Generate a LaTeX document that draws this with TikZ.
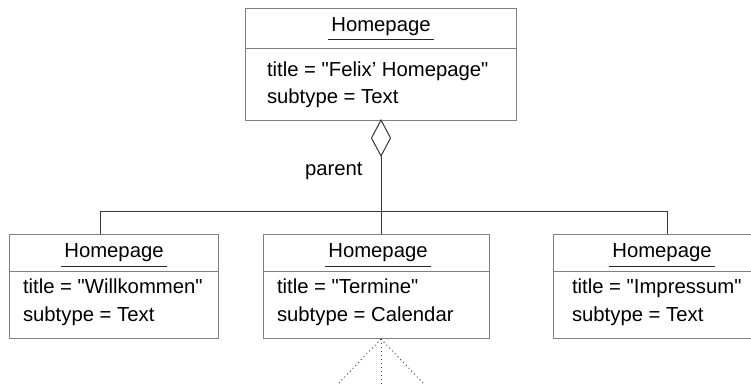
\documentclass[tikz,border=0pt]{standalone}
\usepackage{fontspec}
\setmainfont{Liberation Sans}[Ligatures=TeXOff]
\usetikzlibrary{shapes.geometric,calc}
\definecolor{boxgray}{gray}{0.5}
\definecolor{linegray}{gray}{0.22}
\begin{document}
\begin{tikzpicture}[x=1bp,y=-1bp,
  objbox/.style={draw=boxgray,line width=1bp,rectangle,inner sep=0pt,outer sep=0pt,anchor=north west},
  sep/.style={draw=boxgray,line width=1bp},
  conn/.style={draw=linegray,line width=1bp},
  dots/.style={draw=linegray,line width=0.9bp,dash pattern=on 1bp off 3bp},
  txt/.style={inner sep=0pt,outer sep=0pt,font=\fontsize{20.3bp}{27bp}\selectfont,text=black},
  uline/.style={draw=black!85,line width=1bp}]
\useasboundingbox (0,0) rectangle (751,385);
\clip (0,0) rectangle (751,385);
% boxes
\node[objbox,minimum width=271bp,minimum height=112bp] (tb) at (245,8) {};
\node[objbox,minimum width=209bp,minimum height=104bp] (lb) at (9,234) {};
\node[objbox,minimum width=226bp,minimum height=104bp] (mb) at (263,234) {};
\node[objbox,minimum width=218bp,minimum height=104bp] (rb) at (553,234) {};
% separators
\draw[sep] ($(tb.north west)+(0,40)$) -- ($(tb.north east)+(0,40)$);
\draw[sep] ($(lb.north west)+(0,37)$) -- ($(lb.north east)+(0,37)$);
\draw[sep] ($(mb.north west)+(0,37)$) -- ($(mb.north east)+(0,37)$);
\draw[sep] ($(rb.north west)+(0,37)$) -- ($(rb.north east)+(0,37)$);
% texts top
\node[txt,anchor=base] (th) at (381,31) {Homepage};
\node[txt,anchor=base west] (tt) at (267,76) {title = "Felix’ Homepage"};
\node[txt,anchor=base west] (ts) at (267,103) {subtype = Text};
% left
\node[txt,anchor=base] (lh) at (114,257) {Homepage};
\node[txt,anchor=base west] (lt) at (23,293) {title = "Willkommen"};
\node[txt,anchor=base west] (ls) at (23,321) {subtype = Text};
% middle
\node[txt,anchor=base] (mh) at (378,257) {Homepage};
\node[txt,anchor=base west] (mt) at (277,293) {title = "Termine"};
\node[txt,anchor=base west] (ms) at (277,321) {subtype = Calendar};
% right
\node[txt,anchor=base] (rh) at (662,257) {Homepage};
\node[txt,anchor=base west] (rt) at (572,293) {title = "Impressum"};
\node[txt,anchor=base west] (rs) at (572,321) {subtype = Text};
% underlines
\draw[uline] ($(th.base west)+(-3,8)$) -- ($(th.base east)+(3,8)$);
\draw[uline] ($(lh.base west)+(-3,9)$) -- ($(lh.base east)+(3,9)$);
\draw[uline] ($(mh.base west)+(-3,9)$) -- ($(mh.base east)+(3,9)$);
\draw[uline] ($(rh.base west)+(-3,9)$) -- ($(rh.base east)+(3,9)$);
% aggregation
\node[diamond,draw=linegray,line width=1bp,fill=white,inner sep=0pt,outer sep=0pt,
      minimum width=19bp,minimum height=36bp,anchor=north] (dia) at (381,120) {};
\node[txt,anchor=base west] (par) at (305,175) {parent};
\coordinate (j) at (381,211);
\coordinate (lj) at (100,211);
\coordinate (rj) at (667,211);
\draw[conn] (dia.south) -- (j);
\draw[conn] (lj |- lb.north) -- (lj) -- (rj) -- (rj |- rb.north);
\draw[conn] (j) -- (j |- mb.north);
% dotted fan below middle box
\coordinate (apex) at (381,339);
\coordinate (d1) at (337,385);
\coordinate (d2) at (381,385);
\coordinate (d3) at (425,385);
\draw[dots] (apex) -- (d1);
\draw[dots] (apex) -- (d2);
\draw[dots] (apex) -- (d3);
\end{tikzpicture}
\end{document}
